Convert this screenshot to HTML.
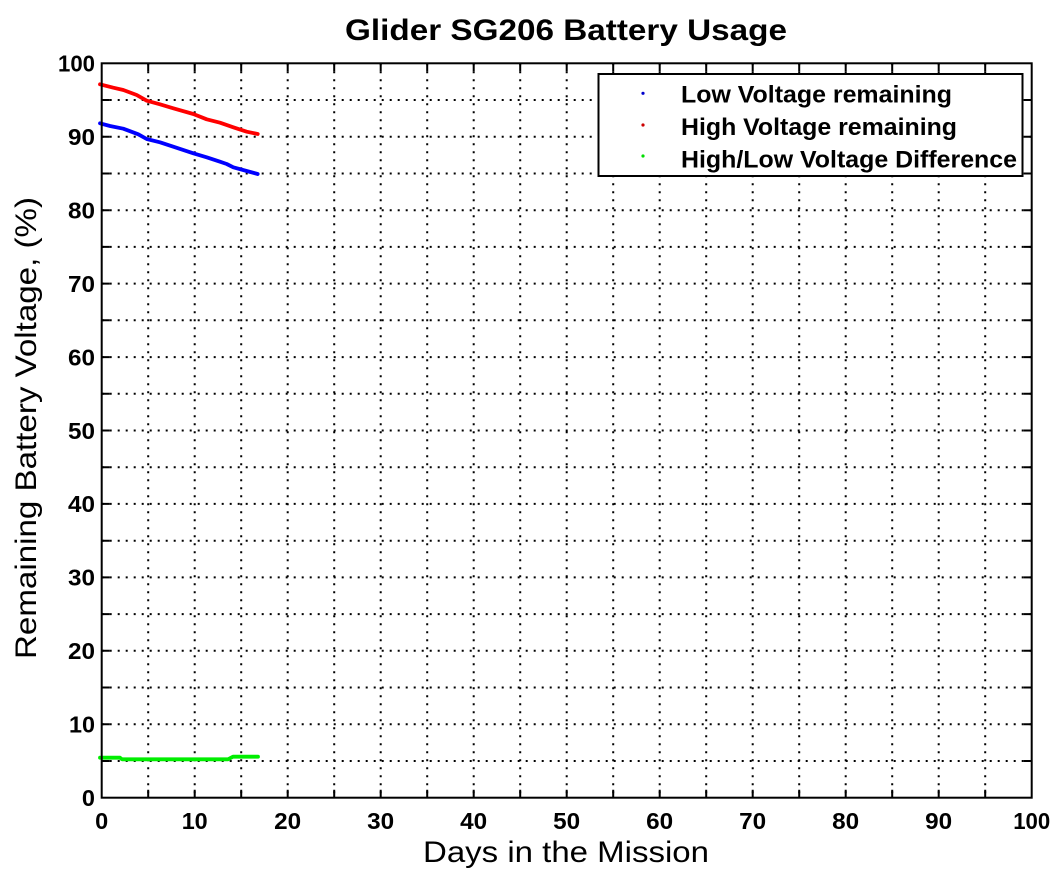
<!DOCTYPE html>
<html>
<head>
<meta charset="utf-8">
<style>
html,body{margin:0;padding:0;background:#fff;}
svg{display:block;}
text{font-family:"Liberation Sans",Arial,sans-serif;fill:#000;}
.tk{font-size:23.5px;font-weight:bold;}
</style>
</head>
<body>
<svg width="1060" height="875" viewBox="0 0 1060 875" xmlns="http://www.w3.org/2000/svg">
<rect x="0" y="0" width="1060" height="875" fill="#fff"/>

<!-- grid -->
<g stroke="#000" stroke-width="2" stroke-dasharray="2 6" fill="none">
<path d="M148.2 63.3V797.7M194.7 63.3V797.7M241.2 63.3V797.7M287.7 63.3V797.7M334.2 63.3V797.7M380.7 63.3V797.7M427.2 63.3V797.7M473.7 63.3V797.7M520.2 63.3V797.7M566.7 63.3V797.7M613.2 63.3V797.7M659.7 63.3V797.7M706.2 63.3V797.7M752.7 63.3V797.7M799.2 63.3V797.7M845.7 63.3V797.7M892.2 63.3V797.7M938.7 63.3V797.7M985.2 63.3V797.7"/>
<path d="M101.7 761H1031.7M101.7 724.3H1031.7M101.7 687.5H1031.7M101.7 650.8H1031.7M101.7 614.1H1031.7M101.7 577.4H1031.7M101.7 540.7H1031.7M101.7 503.9H1031.7M101.7 467.2H1031.7M101.7 430.5H1031.7M101.7 393.8H1031.7M101.7 357.1H1031.7M101.7 320.3H1031.7M101.7 283.6H1031.7M101.7 246.9H1031.7M101.7 210.2H1031.7M101.7 173.5H1031.7M101.7 136.7H1031.7M101.7 100H1031.7"/>
</g>

<!-- ticks -->
<g stroke="#000" stroke-width="2" fill="none">
<path d="M148.2 797.7v-8M194.7 797.7v-8M241.2 797.7v-8M287.7 797.7v-8M334.2 797.7v-8M380.7 797.7v-8M427.2 797.7v-8M473.7 797.7v-8M520.2 797.7v-8M566.7 797.7v-8M613.2 797.7v-8M659.7 797.7v-8M706.2 797.7v-8M752.7 797.7v-8M799.2 797.7v-8M845.7 797.7v-8M892.2 797.7v-8M938.7 797.7v-8M985.2 797.7v-8"/>
<path d="M148.2 63.3v8M194.7 63.3v8M241.2 63.3v8M287.7 63.3v8M334.2 63.3v8M380.7 63.3v8M427.2 63.3v8M473.7 63.3v8M520.2 63.3v8M566.7 63.3v8M613.2 63.3v8M659.7 63.3v8M706.2 63.3v8M752.7 63.3v8M799.2 63.3v8M845.7 63.3v8M892.2 63.3v8M938.7 63.3v8M985.2 63.3v8"/>
<path d="M101.7 761h8M101.7 724.3h8M101.7 687.5h8M101.7 650.8h8M101.7 614.1h8M101.7 577.4h8M101.7 540.7h8M101.7 503.9h8M101.7 467.2h8M101.7 430.5h8M101.7 393.8h8M101.7 357.1h8M101.7 320.3h8M101.7 283.6h8M101.7 246.9h8M101.7 210.2h8M101.7 173.5h8M101.7 136.7h8M101.7 100h8"/>
<path d="M1031.7 761h-8M1031.7 724.3h-8M1031.7 687.5h-8M1031.7 650.8h-8M1031.7 614.1h-8M1031.7 577.4h-8M1031.7 540.7h-8M1031.7 503.9h-8M1031.7 467.2h-8M1031.7 430.5h-8M1031.7 393.8h-8M1031.7 357.1h-8M1031.7 320.3h-8M1031.7 283.6h-8M1031.7 246.9h-8M1031.7 210.2h-8M1031.7 173.5h-8M1031.7 136.7h-8M1031.7 100h-8"/>
</g>

<!-- data -->
<g fill="none" stroke-width="3.8" stroke-linejoin="round" stroke-linecap="round">
<polyline stroke="#ff0000" points="100,84.3 113.3,87.7 123.3,90 136.7,95 146.7,100.7 160,104.3 173.3,108.3 193.3,114 206.7,119.3 220,122.7 233.3,127.3 246.7,131.7 257.7,134"/>
<polyline stroke="#0000ff" points="100,123.3 110,126 123.3,128.7 138.3,134.3 146.7,139 160,142.3 173.3,146.7 193.3,153.3 206.7,157.3 220,161.7 226.7,164 233.3,167.3 246.7,171 257.7,174"/>
<polyline stroke="#00ee00" points="100,757.7 120,757.7 122,759.3 228,759.3 233,756.7 258,756.7"/>
</g>

<!-- axes box -->
<rect x="101.7" y="63.3" width="930" height="734.4" fill="none" stroke="#000" stroke-width="2"/>

<!-- tick labels -->
<g class="tk" text-anchor="middle">
<text x="101.7" y="829">0</text>
<text x="194.7" y="829" textLength="26" lengthAdjust="spacingAndGlyphs">10</text>
<text x="287.7" y="829" textLength="27" lengthAdjust="spacingAndGlyphs">20</text>
<text x="380.7" y="829" textLength="27" lengthAdjust="spacingAndGlyphs">30</text>
<text x="473.7" y="829" textLength="27" lengthAdjust="spacingAndGlyphs">40</text>
<text x="566.7" y="829" textLength="27" lengthAdjust="spacingAndGlyphs">50</text>
<text x="659.7" y="829" textLength="27" lengthAdjust="spacingAndGlyphs">60</text>
<text x="752.7" y="829" textLength="27" lengthAdjust="spacingAndGlyphs">70</text>
<text x="845.7" y="829" textLength="27" lengthAdjust="spacingAndGlyphs">80</text>
<text x="938.7" y="829" textLength="27" lengthAdjust="spacingAndGlyphs">90</text>
<text x="1031.7" y="829" textLength="37" lengthAdjust="spacingAndGlyphs">100</text>
</g>
<g class="tk" text-anchor="end">
<text x="95" y="806">0</text>
<text x="95" y="732.6" textLength="26" lengthAdjust="spacingAndGlyphs">10</text>
<text x="95" y="659.1" textLength="27" lengthAdjust="spacingAndGlyphs">20</text>
<text x="95" y="585.7" textLength="27" lengthAdjust="spacingAndGlyphs">30</text>
<text x="95" y="512.2" textLength="27" lengthAdjust="spacingAndGlyphs">40</text>
<text x="95" y="438.8" textLength="27" lengthAdjust="spacingAndGlyphs">50</text>
<text x="95" y="365.4" textLength="27" lengthAdjust="spacingAndGlyphs">60</text>
<text x="95" y="291.9" textLength="27" lengthAdjust="spacingAndGlyphs">70</text>
<text x="95" y="218.5" textLength="27" lengthAdjust="spacingAndGlyphs">80</text>
<text x="95" y="145" textLength="27" lengthAdjust="spacingAndGlyphs">90</text>
<text x="95" y="71.6" textLength="37" lengthAdjust="spacingAndGlyphs">100</text>
</g>

<!-- title and labels -->
<text x="566" y="40" text-anchor="middle" font-size="30" font-weight="bold" textLength="442" lengthAdjust="spacingAndGlyphs">Glider SG206 Battery Usage</text>
<text x="566" y="862" text-anchor="middle" font-size="30" textLength="286" lengthAdjust="spacingAndGlyphs">Days in the Mission</text>
<text transform="translate(36,428) rotate(-90)" x="0" y="0" text-anchor="middle" font-size="30" textLength="462" lengthAdjust="spacingAndGlyphs">Remaining Battery Voltage, (%)</text>

<!-- legend -->
<rect x="598.5" y="74" width="424" height="102" fill="#fff" stroke="#000" stroke-width="2"/>
<circle cx="643" cy="93.3" r="1.6" fill="#0000cc"/>
<circle cx="643" cy="125" r="1.6" fill="#cc0000"/>
<circle cx="643" cy="156" r="1.6" fill="#00dd00"/>
<g font-size="24.5" font-weight="bold">
<text x="681" y="102.7" textLength="271" lengthAdjust="spacingAndGlyphs">Low Voltage remaining</text>
<text x="681" y="135" textLength="276" lengthAdjust="spacingAndGlyphs">High Voltage remaining</text>
<text x="681" y="167.7" textLength="336" lengthAdjust="spacingAndGlyphs">High/Low Voltage Difference</text>
</g>
</svg>
</body>
</html>
